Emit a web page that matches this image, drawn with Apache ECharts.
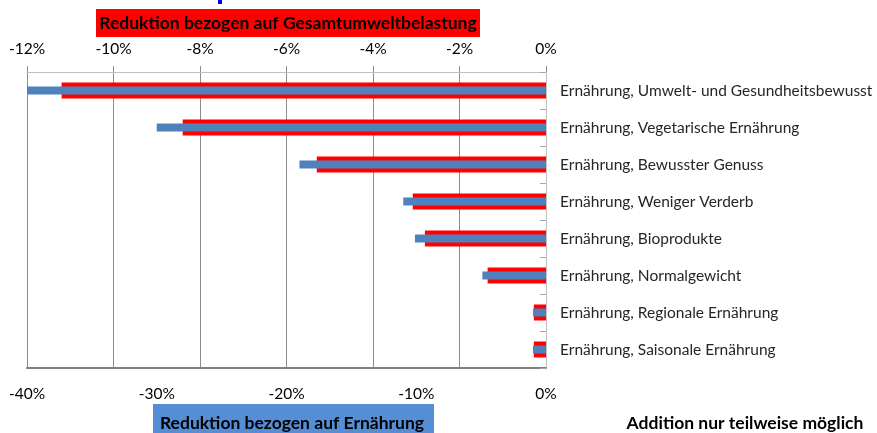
<!DOCTYPE html>
<html>
<head>
<meta charset="utf-8">
<script src="https://cdn.jsdelivr.net/npm/echarts@6/dist/echarts.min.js"></script>
<style>
  html, body { margin: 0; padding: 0; background: #fff; }
  #chart { width: 877px; height: 433px; }
</style>
</head>
<body>
<div id="chart"></div>
<script>
const categories = [
  'Ernährung, Umwelt- und Gesundheitsbewusst',
  'Ernährung, Vegetarische Ernährung',
  'Ernährung, Bewusster Genuss',
  'Ernährung, Weniger Verderb',
  'Ernährung, Bioprodukte',
  'Ernährung, Normalgewicht',
  'Ernährung, Regionale Ernährung',
  'Ernährung, Saisonale Ernährung'
]
// % reduction of total environmental impact (top axis)
const gesamtValues = [-11.2, -8.4, -5.3, -3.08, -2.8, -1.35, -0.28, -0.28]
// % reduction relative to nutrition (bottom axis)
const ernaehrungValues = [-40, -30, -19, -11, -10.1, -4.9, -1.0, -1.0]

const FONT = 'Lato'
const chart = echarts.init(document.getElementById('chart'))

chart.setOption({
  animation: false,
  backgroundColor: '#fff',
  textStyle: { fontFamily: FONT },
  grid: { left: 27, right: 331, top: 72, bottom: 65 },
  xAxis: [
    {
      type: 'value',
      position: 'top',
      min: -12,
      max: 0,
      interval: 2,
      axisLabel: {
        formatter: (v) => v + '%',
        color: '#000',
        fontSize: 15.5,
        margin: 15,
        fontFamily: FONT
      },
      axisLine: { show: true, lineStyle: { color: '#c0c0c0', width: 1 } },
      axisTick: { show: true, length: 6, lineStyle: { color: '#8c8c8c' } },
      splitLine: { show: true, lineStyle: { color: '#8c8c8c', width: 1 } }
    },
    {
      type: 'value',
      position: 'bottom',
      min: -40,
      max: 0,
      interval: 10,
      axisLabel: {
        formatter: (v) => v + '%',
        color: '#000',
        fontSize: 15.5,
        margin: 18,
        fontFamily: FONT
      },
      axisLine: { show: true, lineStyle: { color: '#808080', width: 2 } },
      axisTick: { show: false },
      splitLine: { show: false }
    }
  ],
  yAxis: [
    {
      type: 'category',
      position: 'right',
      inverse: true,
      data: categories,
      axisLabel: { color: '#262626', fontSize: 15.5, margin: 14, fontFamily: FONT },
      axisLine: { show: true, lineStyle: { color: '#c0c0c0' } },
      axisTick: { show: true, inside: true, length: 6, lineStyle: { color: '#a6a6a6' } }
    },
    {
      type: 'category',
      position: 'right',
      inverse: true,
      data: categories,
      show: false
    }
  ],
  series: [
    {
      name: 'Gesamtumweltbelastung',
      type: 'bar',
      xAxisIndex: 0,
      yAxisIndex: 0,
      barWidth: 16,
      itemStyle: { color: '#ff0000' },
      data: gesamtValues
    },
    {
      name: 'Ernährung',
      type: 'bar',
      xAxisIndex: 1,
      yAxisIndex: 1,
      barWidth: 8,
      itemStyle: { color: '#4f81bd' },
      data: ernaehrungValues
    }
  ],
  graphic: [
    {
      type: 'rect',
      shape: { x: 218, y: 0, width: 4, height: 4 },
      style: { fill: '#0000ff' }
    },
    {
      type: 'rect',
      shape: { x: 96, y: 9, width: 384, height: 28 },
      style: { fill: '#ff0000' }
    },
    {
      type: 'text',
      x: 288,
      y: 23,
      style: {
        text: 'Reduktion bezogen auf Gesamtumweltbelastung',
        fill: '#000',
        font: 'bold 17.5px ' + FONT,
        align: 'center',
        verticalAlign: 'middle'
      }
    },
    {
      type: 'rect',
      shape: { x: 153, y: 404, width: 281, height: 40 },
      style: { fill: '#558ed5' }
    },
    {
      type: 'text',
      x: 292,
      y: 423,
      style: {
        text: 'Reduktion bezogen auf Ernährung',
        fill: '#000',
        font: 'bold 17.5px ' + FONT,
        align: 'center',
        verticalAlign: 'middle'
      }
    },
    {
      type: 'text',
      x: 745,
      y: 423,
      style: {
        text: 'Addition nur teilweise möglich',
        fill: '#000',
        font: 'bold 17.5px ' + FONT,
        align: 'center',
        verticalAlign: 'middle'
      }
    }
  ]
})
</script>
</body>
</html>
